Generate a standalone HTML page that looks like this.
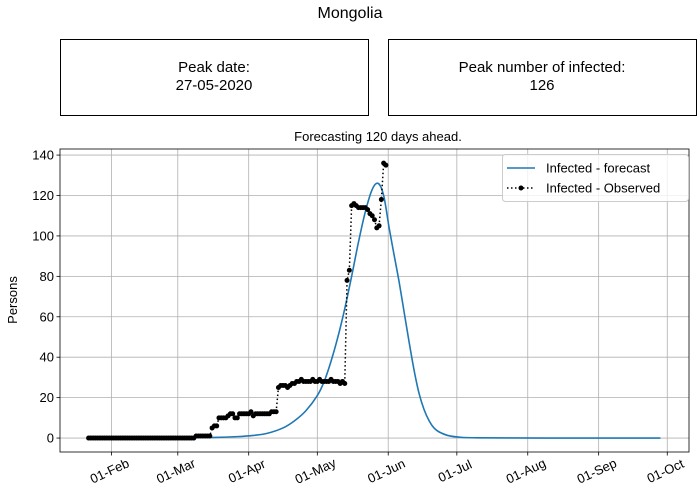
<!DOCTYPE html>
<html><head><meta charset="utf-8"><style>
body{margin:0;background:#fff;}
svg{display:block;font-family:"Liberation Sans","DejaVu Sans",sans-serif;}
</style></head><body>
<svg id="chart" width="700" height="500" xmlns="http://www.w3.org/2000/svg">
<text x="350" y="18" font-size="16" text-anchor="middle">Mongolia</text>
<rect x="60.5" y="39.5" width="308" height="76" fill="#fff" stroke="#000"/>
<text x="214" y="72" font-size="15" text-anchor="middle">Peak date:</text>
<text x="214" y="90" font-size="15" text-anchor="middle">27-05-2020</text>
<rect x="388.5" y="39.5" width="308" height="76" fill="#fff" stroke="#000"/>
<text x="542" y="72" font-size="15" text-anchor="middle">Peak number of infected:</text>
<text x="542" y="90" font-size="15" text-anchor="middle">126</text>
<text x="378" y="141" font-size="13" text-anchor="middle">Forecasting 120 days ahead.</text>
<text transform="translate(17,300) rotate(-90)" font-size="13" text-anchor="middle">Persons</text>
<g id="grid"></g><g id="series"></g><g id="axes"></g>
</svg>
<script>
const yTicks=[0,20,40,60,80,100,120,140];
const xTickLabels=["01-Feb","01-Mar","01-Apr","01-May","01-Jun","01-Jul","01-Aug","01-Sep","01-Oct"];
const xTickDays=[10,39,70,100,131,161,192,223,253];
const observed=[].concat(
 Array(47).fill(0), Array(7).fill(1),
 [5,6,6,10,10,10,10,11,12,12,10,10,12,12],
 [12,12,12,13,11,12,12,12,12,12,12,12,13,13,13],
 [25,26,26,26,25,26,27,27,28,28,29,28,28,28,28,29,28,28,29,28,28,28,28,29,28,28,28,27,28,27],
 [78,83],
 [115,116,115,114,114,114,114,113,111,110,108,104,105,118,136,135]);
const fcDays=[0,39,55,65,72,78,85,90,95,100,103,106,109,112,115,118,121,124,126.6,129,131.4,133.5,135.8,138,140.2,142.4,144.5,146.7,148.9,151,153.3,157,161.6,170,200,250];
const fcVals=[0,0.1,0.3,0.7,1.3,2.3,5,8.5,13.5,21,28,38,50,64,80,97,112,123,126,120,104,91,77,62,47,33,22,14,8.5,5,3,1.3,0.5,0.1,0,0];
const L=60,R=689,T=149,B=452,xmin=-12.5,xmax=262.5,ymin=-6.9,ymax=143;
const X=d=>L+(d-xmin)/(xmax-xmin)*(R-L);
const Y=v=>B-(v-ymin)/(ymax-ymin)*(B-T);
const NS="http://www.w3.org/2000/svg";
function mk(tag,attrs,parent){const e=document.createElementNS(NS,tag);for(const k in attrs)e.setAttribute(k,attrs[k]);parent.appendChild(e);return e;}
const grid=document.getElementById('grid'),axes=document.getElementById('axes'),series=document.getElementById('series');
yTicks.forEach(v=>{
 const g=mk('line',{x1:L,x2:R,y1:Y(v),y2:Y(v),stroke:'#b0b0b0','stroke-width':0.8},grid);
 
 
 mk('line',{x1:L-3.5,x2:L,y1:Y(v),y2:Y(v),stroke:'#000','stroke-width':0.8},axes);
 const t=mk('text',{x:L-6,y:Y(v)+4.5,'font-size':13,'text-anchor':'end'},axes);t.textContent=v;
 
 
});
xTickDays.forEach((d,i)=>{
 const g=mk('line',{x1:X(d),x2:X(d),y1:T,y2:B,stroke:'#b0b0b0','stroke-width':0.8},grid);
 
 
 mk('line',{x1:X(d),x2:X(d),y1:B,y2:B+3.5,stroke:'#000','stroke-width':0.8},axes);
 const t=mk('text',{transform:`translate(${X(d)},${B+23}) rotate(-25)`,'font-size':13,'text-anchor':'middle'},axes);t.textContent=xTickLabels[i];
 
 
});
const frame=mk('rect',{x:L,y:T,width:R-L,height:B-T,fill:'none',stroke:'#000','stroke-width':0.8},axes);


const P=fcDays.map((d,i)=>[X(d),Y(fcVals[i])]);
let dpath='M'+P[0][0]+','+P[0][1];
for(let i=0;i<P.length-1;i++){
 const p0=P[Math.max(0,i-1)],p1=P[i],p2=P[i+1],p3=P[Math.min(P.length-1,i+2)];
 const c1=[p1[0]+(p2[0]-p0[0])/6,p1[1]+(p2[1]-p0[1])/6];
 const c2=[p2[0]-(p3[0]-p1[0])/6,p2[1]-(p3[1]-p1[1])/6];
 dpath+=` C${c1[0]},${Math.min(c1[1],Y(0))} ${c2[0]},${Math.min(c2[1],Y(0))} ${p2[0]},${p2[1]}`;
}
const fc=mk('path',{d:dpath,fill:'none',stroke:'#1f77b4','stroke-width':1.6,'stroke-linejoin':'round'},series);


const ob=mk('polyline',{points:observed.map((v,i)=>X(i)+','+Y(v)).join(' '),fill:'none',stroke:'#000','stroke-width':1.5,'stroke-dasharray':'1.5,2.5'},series);


observed.forEach((v,i)=>{
 const c=mk('circle',{cx:X(i),cy:Y(v),r:2.5,fill:'#000'},series);
 
 
});
const lg=mk('g',{},axes);


mk('rect',{x:502.5,y:154.5,width:186,height:47,rx:3,fill:'#fff','fill-opacity':0.8,stroke:'#ccc'},lg);
mk('line',{x1:507,x2:535,y1:168,y2:168,stroke:'#1f77b4','stroke-width':1.6},lg);
const t1=mk('text',{x:546,y:172.5,'font-size':13},lg);t1.textContent='Infected - forecast';


mk('line',{x1:507,x2:535,y1:188,y2:188,stroke:'#000','stroke-width':1.5,'stroke-dasharray':'1.5,2.5'},lg);
mk('circle',{cx:521,cy:188,r:2.5,fill:'#000'},lg);
const t2=mk('text',{x:546,y:192.5,'font-size':13},lg);t2.textContent='Infected - Observed';


</script>
</body></html>
